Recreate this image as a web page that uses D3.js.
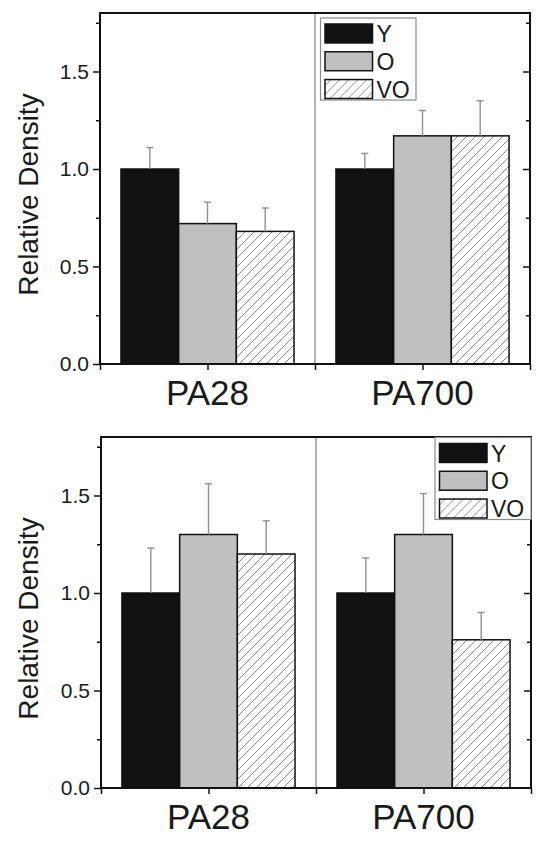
<!DOCTYPE html>
<html>
<head>
<meta charset="utf-8">
<script src="https://cdn.jsdelivr.net/npm/d3@7"></script>
<style>
  html, body { margin: 0; padding: 0; background: #fff; }
  svg { display: block; }
  text { font-family: Arial, "Liberation Sans", sans-serif; fill: #1a1a1a; }
</style>
</head>
<body>
<svg id="chart" width="551" height="854"></svg>
<script>
// ---------- data ----------
const categories = ["PA28", "PA700"];
const seriesNames = ["Y", "O", "VO"];

// top panel
const topY = [1.00, 1.00];
const topO = [0.72, 1.17];
const topVO = [0.68, 1.17];
const topYErr = [0.11, 0.08];
const topOErr = [0.11, 0.13];
const topVOErr = [0.12, 0.18];

// bottom panel
const botY = [1.00, 1.00];
const botO = [1.30, 1.30];
const botVO = [1.20, 0.76];
const botYErr = [0.23, 0.18];
const botOErr = [0.26, 0.21];
const botVOErr = [0.17, 0.14];

const yMajorTicks = [0.0, 0.5, 1.0, 1.5];
const yMinorTicks = [0.25, 0.75, 1.25, 1.75];
const yLabel = "Relative Density";

// ---------- drawing ----------
const svg = d3.select("#chart");
const defs = svg.append("defs");
const hatch = defs.append("pattern")
  .attr("id", "hatch").attr("patternUnits", "userSpaceOnUse")
  .attr("width", 9).attr("height", 9);
hatch.append("rect").attr("width", 9).attr("height", 9).attr("fill", "#fff");
hatch.append("path")
  .attr("d", "M-2,2 L2,-2 M0,9 L9,0 M7,11 L11,7")
  .attr("stroke", "#8a8a8a").attr("stroke-width", 1);

const fills = { Y: "#111111", O: "#c0c0c0", VO: "url(#hatch)" };

function drawPanel(cfg, vals, errs) {
  const { left, right, top, bottom, legend } = cfg;
  const g = svg.append("g");
  const x = d3.scaleLinear().domain([0, 4]).range([left, right]);
  const y = d3.scaleLinear().domain([0, 1.8]).range([bottom, top]);
  const catPos = d3.scaleOrdinal().domain(categories).range([1, 3]);
  const inner = d3.scaleBand().domain(seriesNames).range([-0.805, 0.805]).padding(0);

  // divider
  g.append("line")
    .attr("x1", x(2)).attr("x2", x(2))
    .attr("y1", y(1.8)).attr("y2", y(0))
    .attr("stroke", "#8a8a8a").attr("stroke-width", 1.3);

  // bars
  const rows = [];
  categories.forEach((c, ci) => {
    seriesNames.forEach((s, si) => {
      rows.push({ c, s, v: vals[si][ci], e: errs[si][ci] });
    });
  });
  const bars = g.append("g");
  bars.selectAll("rect").data(rows).enter().append("rect")
    .attr("x", d => x(catPos(d.c) + inner(d.s)))
    .attr("width", d => x(inner.bandwidth()) - x(0))
    .attr("y", d => y(d.v))
    .attr("height", d => y(0) - y(d.v))
    .attr("fill", d => fills[d.s])
    .attr("stroke", "#111").attr("stroke-width", 1.5);

  // error bars (upper only)
  const eb = g.append("g").attr("stroke", "#8f8f8f").attr("stroke-width", 1.4);
  rows.forEach(d => {
    const cx = x(catPos(d.c) + inner(d.s) + inner.bandwidth() / 2);
    eb.append("line").attr("x1", cx).attr("x2", cx)
      .attr("y1", y(d.v)).attr("y2", y(d.v + d.e));
    eb.append("line").attr("x1", cx - 3.5).attr("x2", cx + 3.5)
      .attr("y1", y(d.v + d.e)).attr("y2", y(d.v + d.e));
  });

  // left axis
  const yAxis = d3.axisLeft(y).tickValues(yMajorTicks).tickSize(7)
    .tickFormat(d3.format(".1f")).tickPadding(4);
  const ya = g.append("g").attr("transform", `translate(${left},0)`).call(yAxis);
  ya.select(".domain").remove();
  ya.selectAll("line").attr("stroke", "#111").attr("stroke-width", 1.5);
  ya.selectAll("text").attr("font-size", 21).attr("fill", "#1a1a1a")
    .style("font-family", "Arial, 'Liberation Sans', sans-serif");
  const yMinor = g.append("g").attr("transform", `translate(${left},0)`)
    .call(d3.axisLeft(y).tickValues(yMinorTicks).tickSize(4).tickFormat(""));
  yMinor.select(".domain").remove();
  yMinor.selectAll("line").attr("stroke", "#111").attr("stroke-width", 1.5);

  // right axis (inward ticks)
  const yr = g.append("g").attr("transform", `translate(${right},0)`)
    .call(d3.axisLeft(y).tickValues(yMajorTicks).tickSize(-0).tickFormat(""));
  yr.select(".domain").remove();
  const rMaj = g.append("g").attr("transform", `translate(${right},0)`)
    .call(d3.axisRight(y).tickValues(yMajorTicks.filter(v => v > 0)).tickSize(-7).tickFormat(""));
  rMaj.select(".domain").remove();
  rMaj.selectAll("line").attr("stroke", "#111").attr("stroke-width", 1.5);
  const rMin = g.append("g").attr("transform", `translate(${right},0)`)
    .call(d3.axisRight(y).tickValues(yMinorTicks).tickSize(-4).tickFormat(""));
  rMin.select(".domain").remove();
  rMin.selectAll("line").attr("stroke", "#111").attr("stroke-width", 1.5);

  // bottom axis
  const xa = g.append("g").attr("transform", `translate(0,${bottom})`)
    .call(d3.axisBottom(x).tickValues([0, 1, 2, 3, 4]).tickSize(6).tickFormat(""));
  xa.select(".domain").remove();
  xa.selectAll("line").attr("stroke", "#111").attr("stroke-width", 1.5);

  // frame
  g.append("rect")
    .attr("x", left).attr("y", top)
    .attr("width", right - left).attr("height", bottom - top)
    .attr("fill", "none").attr("stroke", "#111").attr("stroke-width", 2);

  // category labels
  g.selectAll("text.cat").data(categories).enter().append("text")
    .attr("class", "cat")
    .attr("x", d => x(catPos(d)))
    .attr("y", bottom + 41)
    .attr("text-anchor", "middle")
    .attr("font-size", 35)
    .text(d => d);

  // y label
  g.append("text")
    .attr("transform", `translate(38,${(top + bottom) / 2 + 6}) rotate(-90)`)
    .attr("text-anchor", "middle")
    .attr("font-size", 28)
    .text(yLabel);

  // legend
  const lg = g.append("g").attr("transform", `translate(${legend.x},${legend.y})`);
  lg.append("rect").attr("width", legend.w).attr("height", 82)
    .attr("fill", "#fff").attr("stroke", "#8a8a8a").attr("stroke-width", 1.2);
  const ls = d3.scaleBand().domain(seriesNames).range([5, 80]).paddingInner(0.3);
  seriesNames.forEach(s => {
    lg.append("rect")
      .attr("x", 4.5).attr("y", ls(s) + 1)
      .attr("width", 47.5).attr("height", ls.bandwidth() - 0.5)
      .attr("fill", fills[s]).attr("stroke", "#111").attr("stroke-width", 1.5);
    lg.append("text")
      .attr("x", 56).attr("y", ls(s) + ls.bandwidth() / 2 + 1)
      .attr("dy", "0.36em")
      .attr("font-size", 23)
      .text(s);
  });
}

drawPanel({ left: 100, right: 530, top: 13, bottom: 364,
            legend: { x: 320.5, y: 18, w: 95.5 } },
          [topY, topO, topVO], [topYErr, topOErr, topVOErr]);
drawPanel({ left: 101, right: 531, top: 437, bottom: 788,
            legend: { x: 435, y: 437.5, w: 96 } },
          [botY, botO, botVO], [botYErr, botOErr, botVOErr]);
</script>
</body>
</html>
